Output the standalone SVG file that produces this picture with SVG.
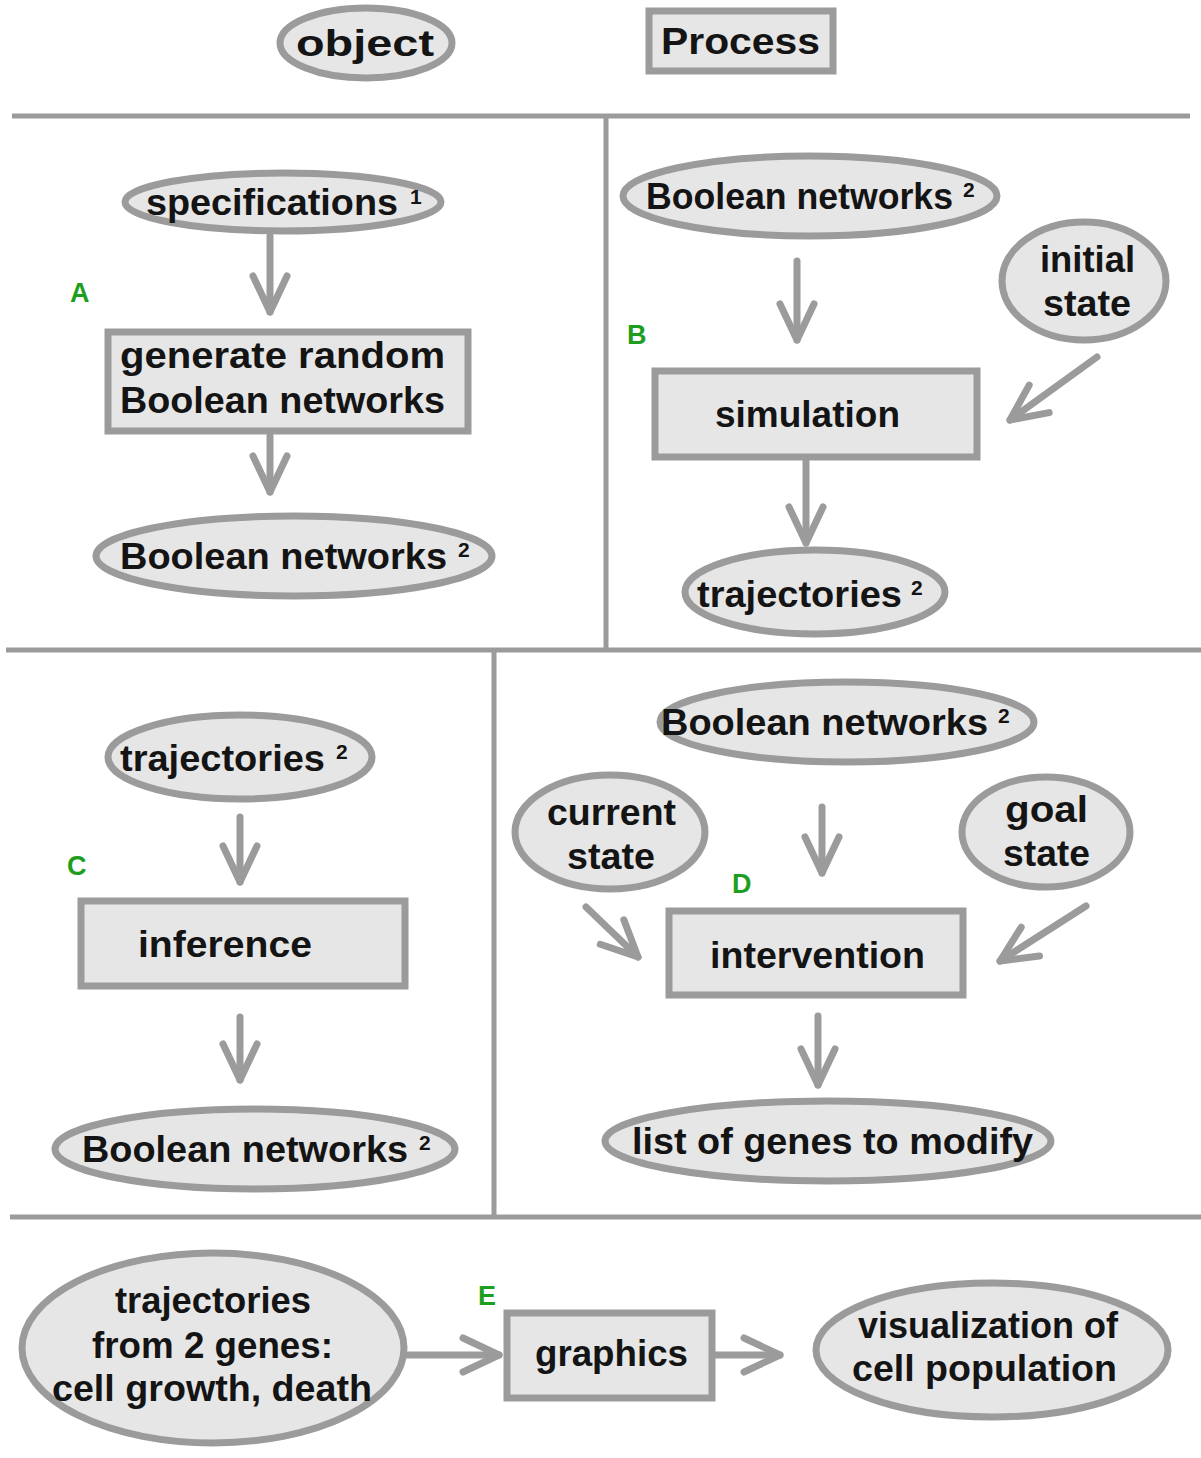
<svg xmlns="http://www.w3.org/2000/svg" width="1201" height="1458" viewBox="0 0 1201 1458">
<style>
.n{fill:#e6e6e6;stroke:#9b9b9b;stroke-width:7}
.t{font-family:"Liberation Sans",Arial,sans-serif;font-weight:bold;font-size:36px;fill:#141414}
.s{font-family:"Liberation Sans",Arial,sans-serif;font-weight:bold;font-size:21px;fill:#141414}
.l{font-family:"Liberation Sans",Arial,sans-serif;font-weight:bold;font-size:27px;fill:#1e9e1e}
.div{stroke:#9b9b9b;stroke-width:5;fill:none}
.c{stroke:#9b9b9b;stroke-width:7;fill:none;stroke-linecap:round;marker-end:url(#v)}
</style>
<defs>
<marker id="v" markerUnits="userSpaceOnUse" markerWidth="60" markerHeight="60" viewBox="-50 -30 60 60" refX="0" refY="0" orient="auto" overflow="visible">
<path d="M-36,-17 L0,0 L-36,17" fill="none" stroke="#9b9b9b" stroke-width="7" stroke-linecap="round" stroke-linejoin="round"/>
</marker>
</defs>
<rect width="1201" height="1458" fill="#ffffff"/>
<g id="dividers">
<line class="div" x1="12" y1="116" x2="1190" y2="116"/>
<line class="div" x1="606" y1="116" x2="606" y2="650"/>
<line class="div" x1="6" y1="650" x2="1201" y2="650"/>
<line class="div" x1="494" y1="650" x2="494" y2="1217"/>
<line class="div" x1="10" y1="1217" x2="1201" y2="1217"/>
</g>
<g id="legend-object"><ellipse class="n" cx="366" cy="43" rx="86" ry="35"/><text class="t" x="296" y="56" font-size="38" textLength="138" lengthAdjust="spacingAndGlyphs">object</text></g>
<g id="legend-process"><rect class="n" x="649" y="11" width="184" height="60"/><text class="t" x="661" y="54" font-size="38" textLength="159" lengthAdjust="spacingAndGlyphs">Process</text></g>
<g id="labels">
<text class="l" x="70" y="302">A</text>
<text class="l" x="627" y="344">B</text>
<text class="l" x="67" y="875">C</text>
<text class="l" x="732" y="893">D</text>
<text class="l" x="478" y="1305">E</text>
</g>
<g id="A-specifications"><ellipse class="n" cx="283" cy="202" rx="158" ry="29"/><text class="t" x="146" y="215" textLength="252" lengthAdjust="spacingAndGlyphs">specifications</text><text class="s" x="410" y="204">1</text></g>
<g id="A-generate"><rect class="n" x="108" y="332" width="360" height="99"/><text class="t" x="120" y="368" textLength="325" lengthAdjust="spacingAndGlyphs">generate random</text><text class="t" x="120" y="413" textLength="325" lengthAdjust="spacingAndGlyphs">Boolean networks</text></g>
<g id="A-networks"><ellipse class="n" cx="294" cy="556" rx="198" ry="40"/><text class="t" x="120" y="569" textLength="327" lengthAdjust="spacingAndGlyphs">Boolean networks</text><text class="s" x="458" y="557">2</text></g>
<g id="B-networks"><ellipse class="n" cx="810" cy="196" rx="187" ry="40"/><text class="t" x="646" y="209" textLength="307" lengthAdjust="spacingAndGlyphs">Boolean networks</text><text class="s" x="963" y="197">2</text></g>
<g id="B-initial"><ellipse class="n" cx="1084" cy="281" rx="82" ry="59"/><text class="t" x="1040" y="272" textLength="95" lengthAdjust="spacingAndGlyphs">initial</text><text class="t" x="1043" y="316" textLength="88" lengthAdjust="spacingAndGlyphs">state</text></g>
<g id="B-simulation"><rect class="n" x="655" y="371" width="322" height="86"/><text class="t" x="715" y="427" textLength="185" lengthAdjust="spacingAndGlyphs">simulation</text></g>
<g id="B-trajectories"><ellipse class="n" cx="815" cy="592" rx="130" ry="42"/><text class="t" x="697" y="607" textLength="205" lengthAdjust="spacingAndGlyphs">trajectories</text><text class="s" x="911" y="595">2</text></g>
<g id="C-trajectories"><ellipse class="n" cx="240" cy="757" rx="132" ry="42"/><text class="t" x="120" y="771" textLength="205" lengthAdjust="spacingAndGlyphs">trajectories</text><text class="s" x="336" y="759">2</text></g>
<g id="C-inference"><rect class="n" x="81" y="901" width="324" height="85"/><text class="t" x="138" y="957" textLength="174" lengthAdjust="spacingAndGlyphs">inference</text></g>
<g id="C-networks"><ellipse class="n" cx="255" cy="1149" rx="200" ry="40"/><text class="t" x="82" y="1162" textLength="326" lengthAdjust="spacingAndGlyphs">Boolean networks</text><text class="s" x="419" y="1150">2</text></g>
<g id="D-networks"><ellipse class="n" cx="847" cy="722" rx="187" ry="40"/><text class="t" x="661" y="735" textLength="327" lengthAdjust="spacingAndGlyphs">Boolean networks</text><text class="s" x="998" y="723">2</text></g>
<g id="D-current"><ellipse class="n" cx="610" cy="832" rx="95" ry="57"/><text class="t" x="547" y="825" textLength="129" lengthAdjust="spacingAndGlyphs">current</text><text class="t" x="567" y="869" textLength="88" lengthAdjust="spacingAndGlyphs">state</text></g>
<g id="D-goal"><ellipse class="n" cx="1046" cy="832" rx="84" ry="55"/><text class="t" x="1005" y="822" textLength="83" lengthAdjust="spacingAndGlyphs">goal</text><text class="t" x="1003" y="866" textLength="87" lengthAdjust="spacingAndGlyphs">state</text></g>
<g id="D-intervention"><rect class="n" x="669" y="911" width="294" height="84"/><text class="t" x="710" y="968" textLength="215" lengthAdjust="spacingAndGlyphs">intervention</text></g>
<g id="D-list"><ellipse class="n" cx="828" cy="1141" rx="223" ry="40"/><text class="t" x="632" y="1154" textLength="401" lengthAdjust="spacingAndGlyphs">list of genes to modify</text></g>
<g id="E-trajectories"><ellipse class="n" cx="213" cy="1348" rx="191" ry="95"/><text class="t" x="115" y="1313" textLength="196" lengthAdjust="spacingAndGlyphs">trajectories</text><text class="t" x="92" y="1358" textLength="241" lengthAdjust="spacingAndGlyphs">from 2 genes:</text><text class="t" x="52" y="1401" textLength="320" lengthAdjust="spacingAndGlyphs">cell growth, death</text></g>
<g id="E-graphics"><rect class="n" x="507" y="1313" width="205" height="85"/><text class="t" x="535" y="1366" textLength="153" lengthAdjust="spacingAndGlyphs">graphics</text></g>
<g id="E-visualization"><ellipse class="n" cx="992" cy="1350" rx="176" ry="67"/><text class="t" x="858" y="1338" textLength="260" lengthAdjust="spacingAndGlyphs">visualization of</text><text class="t" x="852" y="1381" textLength="265" lengthAdjust="spacingAndGlyphs">cell population</text></g>
<g id="connectors">
<path class="c" d="M270,236 L270,312"/>
<path class="c" d="M270,436 L270,492"/>
<path class="c" d="M797,261 L797,340"/>
<path class="c" d="M1097,357 L1010,420"/>
<path class="c" d="M806,461 L806,543"/>
<path class="c" d="M240,817 L240,882"/>
<path class="c" d="M240,1017 L240,1080"/>
<path class="c" d="M822,807 L822,873"/>
<path class="c" d="M586,907 L638,957"/>
<path class="c" d="M1086,906 L1000,961"/>
<path class="c" d="M818,1016 L818,1085"/>
<path class="c" d="M408,1355 L499,1355"/>
<path class="c" d="M716,1355 L780,1355"/>
</g>
</svg>
